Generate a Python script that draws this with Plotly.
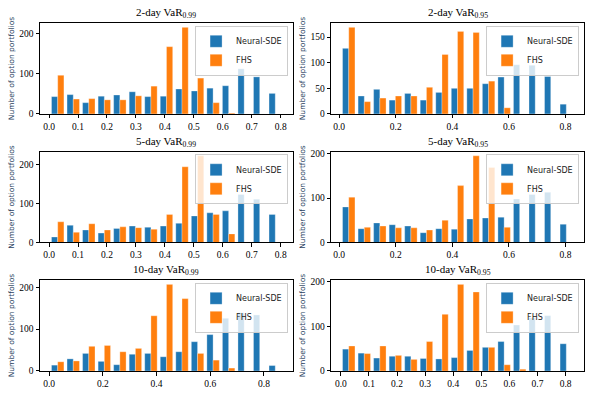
import numpy as np
import plotly.graph_objects as go
from plotly.subplots import make_subplots

# panel titles
titles = ["2-day VaR<sub>0.99</sub>", "2-day VaR<sub>0.95</sub>",
          "5-day VaR<sub>0.99</sub>", "5-day VaR<sub>0.95</sub>",
          "10-day VaR<sub>0.99</sub>", "10-day VaR<sub>0.95</sub>"]

# histogram bin range per panel (15 bins each)
bin_lo = [0.003, 0.0065, 0.003, 0.0065, 0.003, 0.0005]
bin_hi = [0.808, 0.830, 0.808, 0.830, 0.871, 0.830]
n_bins = 15

# counts per bin
neural_2d_99 = [43, 48, 28, 44, 47, 55, 43, 44, 62, 57, 64, 70, 112, 92, 51]
fhs_2d_99 = [96, 37, 38, 35, 35, 45, 69, 167, 215, 89, 28, 2, 0, 0, 0]
neural_2d_95 = [128, 35, 48, 27, 40, 27, 42, 50, 50, 59, 72, 96, 95, 73, 19]
fhs_2d_95 = [169, 24, 31, 35, 35, 52, 116, 161, 159, 64, 12, 0, 0, 0, 0]
neural_5d_99 = [14, 44, 32, 24, 36, 42, 39, 42, 49, 68, 76, 81, 123, 111, 72]
fhs_5d_99 = [53, 26, 48, 32, 40, 38, 34, 72, 194, 222, 72, 22, 0, 0, 0]
neural_5d_95 = [80, 31, 44, 40, 37, 22, 31, 30, 53, 55, 57, 98, 108, 113, 41]
fhs_5d_95 = [102, 34, 37, 33, 33, 28, 50, 128, 195, 169, 34, 0, 0, 0, 0]
neural_10d_99 = [14, 29, 42, 23, 15, 40, 42, 34, 46, 70, 87, 126, 139, 134, 13]
fhs_10d_99 = [22, 24, 59, 61, 46, 54, 132, 207, 173, 42, 26, 7, 0, 0, 0]
neural_10d_95 = [49, 40, 29, 33, 33, 28, 27, 30, 46, 53, 66, 103, 119, 124, 61]
fhs_10d_95 = [56, 39, 56, 35, 26, 66, 127, 194, 177, 53, 14, 4, 0, 0, 0]

neural = [neural_2d_99, neural_2d_95, neural_5d_99, neural_5d_95, neural_10d_99, neural_10d_95]
fhs = [fhs_2d_99, fhs_2d_95, fhs_5d_99, fhs_5d_95, fhs_10d_99, fhs_10d_95]

x_dtick = [0.1, 0.2, 0.1, 0.2, 0.2, 0.1]
y_dtick = [100, 50, 100, 100, 100, 100]

BLUE = "#1f77b4"
ORANGE = "#ff7f0e"
SERIF = "Liberation Serif"
SANS = "DejaVu Sans"

fig = make_subplots(rows=3, cols=2, subplot_titles=titles,
                    horizontal_spacing=0.07, vertical_spacing=0.108)

for i in range(6):
    r, c = i // 2 + 1, i % 2 + 1
    edges = np.linspace(bin_lo[i], bin_hi[i], n_bins + 1)
    centers = (edges[:-1] + edges[1:]) / 2
    w = edges[1] - edges[0]
    leg = "legend" if i == 0 else f"legend{i + 1}"
    for name, vals, col in [("Neural-SDE", neural[i], BLUE), ("FHS", fhs[i], ORANGE)]:
        fig.add_trace(go.Bar(x=centers, y=vals, name=name, marker_color=col,
                             marker_line=dict(color="rgba(255,255,255,0.6)", width=0.5),
                             legend=leg), row=r, col=c)
    lo, hi = edges[0] + 0.1 * w, edges[-1] - 0.1 * w
    pad = 0.05 * (hi - lo)
    fig.update_xaxes(range=[lo - pad, hi + pad], dtick=x_dtick[i], tick0=0,
                     tickformat=".1f", row=r, col=c)
    ymax = max(max(neural[i]), max(fhs[i])) * 1.05
    fig.update_yaxes(range=[0, ymax], dtick=y_dtick[i], tick0=0,
                     title=dict(text="Number of option portfolios",
                                font=dict(family=SANS, size=7.5), standoff=3),
                     row=r, col=c)

    # legend in the upper right of each panel
    xa = fig.layout["xaxis" if i == 0 else f"xaxis{i + 1}"]
    ya = fig.layout["yaxis" if i == 0 else f"yaxis{i + 1}"]
    fig.layout[leg] = dict(x=xa.domain[1] - 0.009, y=ya.domain[1] - 0.008,
                           xanchor="right", yanchor="top",
                           bgcolor="rgba(255,255,255,0.8)", bordercolor="#cccccc",
                           borderwidth=1, font=dict(family=SANS, size=8, color="#222"),
                           tracegroupgap=0, itemwidth=30)

fig.update_xaxes(showline=True, linecolor="black", linewidth=1, mirror=True,
                 ticks="outside", ticklen=3.5, tickwidth=0.8, tickcolor="black",
                 showgrid=False, zeroline=False, automargin=False,
                 tickfont=dict(family=SERIF, size=9.5, color="black"))
fig.update_yaxes(showline=True, linecolor="black", linewidth=1, mirror=True,
                 ticks="outside", ticklen=3.5, tickwidth=0.8, tickcolor="black",
                 showgrid=False, zeroline=False, automargin=False,
                 tickfont=dict(family=SERIF, size=9.5, color="black"))

for ann in fig.layout.annotations:
    ann.font = dict(family=SERIF, size=11, color="black")
    ann.yshift = 1

fig.update_layout(width=594, height=396, barmode="group", bargap=0.2, bargroupgap=0,
                  plot_bgcolor="white", paper_bgcolor="white",
                  margin=dict(l=40, r=10, t=23, b=25))

# drop the default page margin so the figure sits at the window's corner
fig.write_html("out.html", config={"displayModeBar": False},
               post_script="document.body.style.margin='0';")
